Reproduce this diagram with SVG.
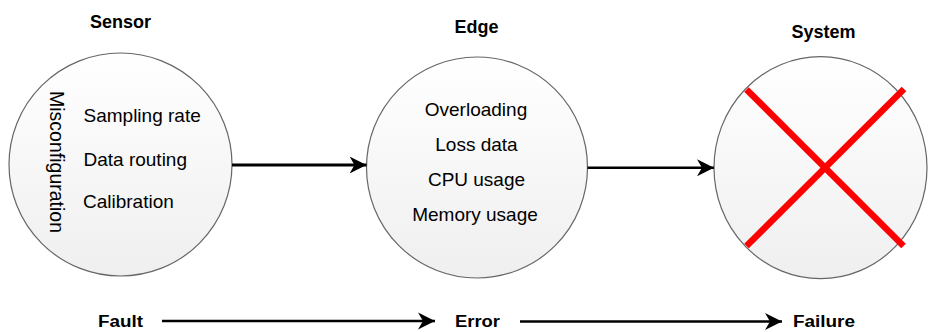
<svg xmlns="http://www.w3.org/2000/svg" width="928" height="332" viewBox="0 0 928 332">
  <style>
    text { font-family: "Liberation Sans", Arial, sans-serif; fill: #000; }
    .title { font-size: 18px; font-weight: bold; text-anchor: middle; }
    .item { font-size: 19px; }
    .mid { text-anchor: middle; }
    .stage { font-size: 16px; font-weight: bold; }
    .ball { fill: url(#ballFill); stroke: #666666; stroke-width: 1.2; }
    .flow { stroke: #000; stroke-width: 3; fill: none; }
    .cross { stroke: #ff0000; stroke-width: 6.5; }
  </style>
  <defs>
    <linearGradient id="ballFill" x1="0" y1="0" x2="0" y2="1">
      <stop offset="0" stop-color="#ffffff"/>
      <stop offset="1" stop-color="#efefef"/>
    </linearGradient>
    <marker id="head" viewBox="0 0 18 18" refX="17" refY="9" markerWidth="18" markerHeight="18" markerUnits="userSpaceOnUse" orient="auto">
      <path d="M17,9 L0,0.5 L5,9 L0,17.5 Z" fill="#000"/>
    </marker>
  </defs>

  <!-- Sensor node -->
  <g id="sensor">
    <text class="title" x="120.5" y="28">Sensor</text>
    <circle class="ball" cx="120.5" cy="164.5" r="111.5"/>
    <text class="item" x="83.5" y="122">Sampling rate</text>
    <text class="item" x="83.5" y="166">Data routing</text>
    <text class="item" x="83" y="208">Calibration</text>
    <text class="item mid" transform="translate(49.5,162) rotate(90)" style="font-size:19.5px">Misconfiguration</text>
  </g>

  <!-- Edge node -->
  <g id="edge">
    <text class="title" x="476.5" y="33">Edge</text>
    <circle class="ball" cx="477" cy="167.5" r="110.5"/>
    <text class="item mid" x="476" y="116">Overloading</text>
    <text class="item mid" x="476.5" y="151">Loss data</text>
    <text class="item mid" x="476.5" y="186">CPU usage</text>
    <text class="item mid" x="475" y="221">Memory usage</text>
  </g>

  <!-- System node (failed) -->
  <g id="system">
    <text class="title" x="823.5" y="38">System</text>
    <ellipse class="ball" cx="820.5" cy="167.7" rx="106.5" ry="111"/>
    <line class="cross" x1="746.5" y1="89.5" x2="903.5" y2="246"/>
    <line class="cross" x1="746.5" y1="246" x2="904" y2="89"/>
  </g>

  <!-- Fault / Error / Failure chain -->
  <g id="stages">
    <text class="stage" x="98" y="327" textLength="45" lengthAdjust="spacingAndGlyphs">Fault</text>
    <text class="stage" x="455" y="327" textLength="45" lengthAdjust="spacingAndGlyphs">Error</text>
    <text class="stage" x="793" y="327" textLength="62" lengthAdjust="spacingAndGlyphs">Failure</text>
  </g>

  <!-- Connectors -->
  <g id="connectors">
    <line class="flow" x1="232" y1="165" x2="366.5" y2="165" marker-end="url(#head)"/>
    <line class="flow" x1="587.5" y1="167.7" x2="714" y2="167.7" style="stroke-width:2.6" marker-end="url(#head)"/>
    <line class="flow" x1="162" y1="321" x2="435" y2="321" style="stroke-width:2.4" marker-end="url(#head)"/>
    <line class="flow" x1="520" y1="321.5" x2="782" y2="321.5" style="stroke-width:2.4" marker-end="url(#head)"/>
  </g>
</svg>
